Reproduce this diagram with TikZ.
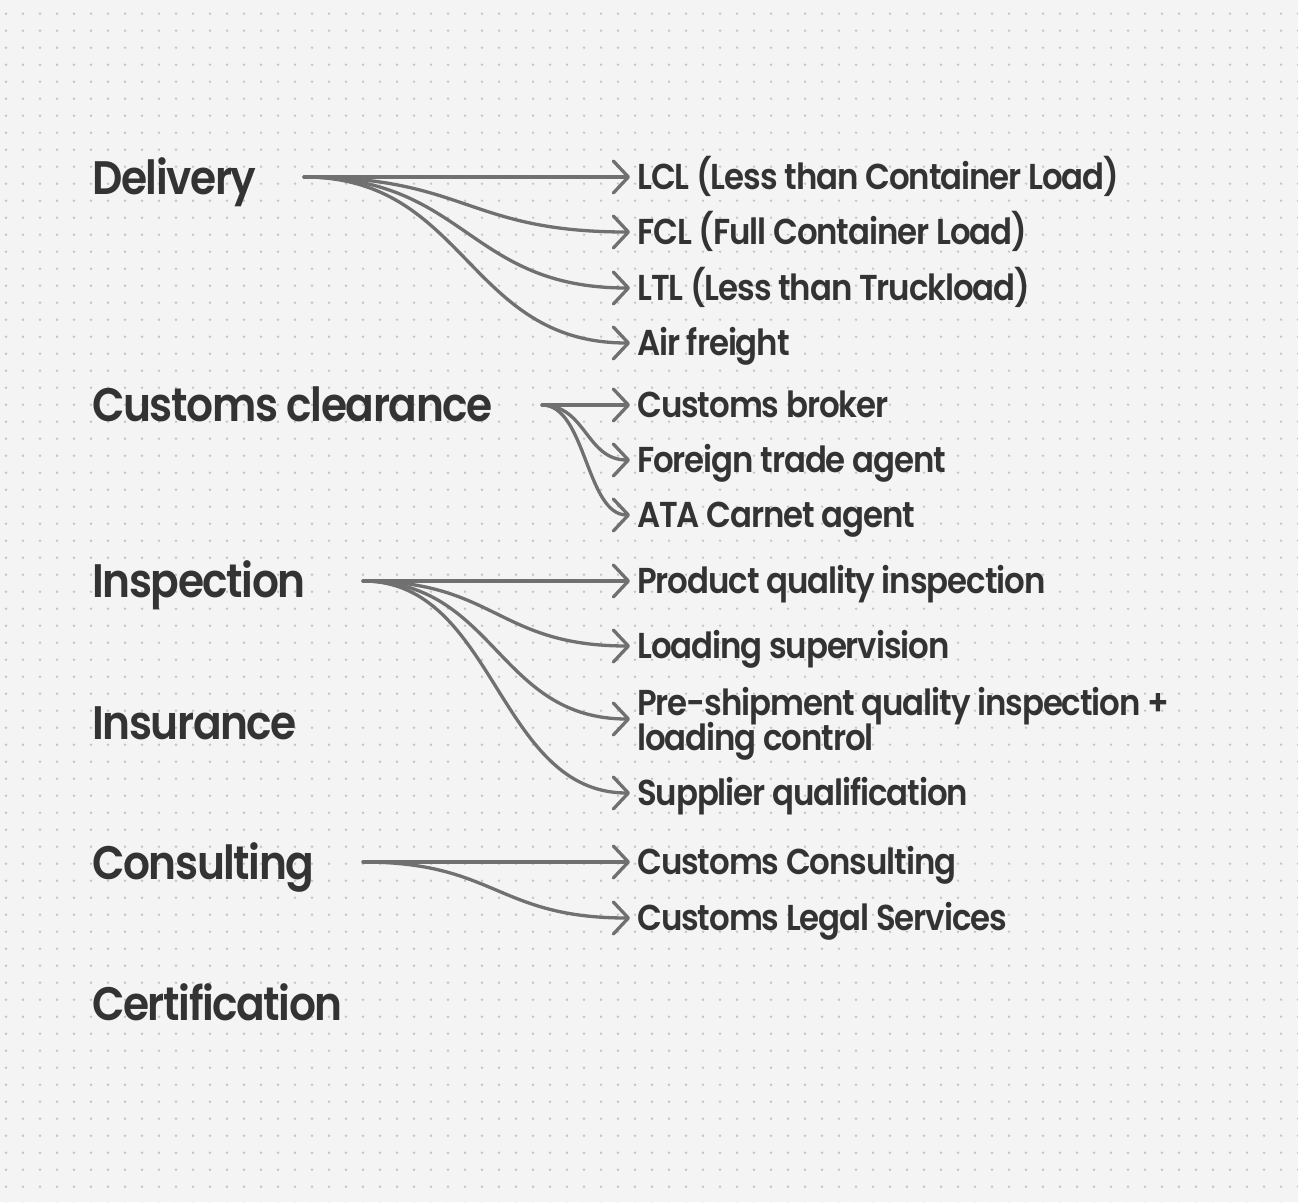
\documentclass[tikz,border=0pt]{standalone}
\usepackage{fontspec}
\setmainfont{Poppins}[UprightFont=* SemiBold, BoldFont=* Bold, FakeStretch=0.9, LetterSpace=-3]
\usetikzlibrary{arrows.meta}
\definecolor{bg}{HTML}{F4F4F4}
\definecolor{dotc}{HTML}{C4C4C4}
\definecolor{ink}{HTML}{333333}
\definecolor{wire}{HTML}{707070}
\tikzset{
  head/.style={font=\fontsize{47}{50}\selectfont, text=ink, inner sep=0pt,
    text height=33pt, text depth=0pt, anchor=west},
  item/.style={font=\fontsize{36}{34}\selectfont, text=ink, inner ysep=0pt,
    inner xsep=7pt, text height=25pt, text depth=0pt, anchor=west},
  item2/.style={font={\fontsize{36}{35}\selectfont\lineskiplimit=-100pt}, text=ink,
    inner ysep=0pt, inner xsep=7pt, align=left, anchor=west},
  conn/.style={draw=wire, line width=3.3pt, line cap=round,
    -{Straight Barb[length=15pt,width=32pt,round]}},
}
\begin{document}
\begin{tikzpicture}[x=1pt,y=-1pt]
\useasboundingbox (0,0) rectangle (1298,1202);
\fill[bg] (0,0) rectangle (1298,1202);
\foreach \i in {0,...,76}{
  \foreach \j in {0,...,70}{
    \fill[dotc] (6+17*\i,13.7+17*\j) circle[radius=1.3pt];
  }
}
% headings
\node[head] (delivery) at (92,178) {Delivery};
\node[head] (customs) at (92,405) {Customs clearance};
\node[head] (inspection) at (92,581) {Inspection};
\node[head] (insurance) at (92,723) {Insurance};
\node[head] (consulting) at (92,863) {Consulting};
\node[head] (certification) at (92,1004) {Certification};
% sources
\coordinate (d0) at (304,177);
\coordinate (c0) at (542,405);
\coordinate (i0) at (363,581);
\coordinate (k0) at (363,862);
% items
\node[item] (lcl) at (630,177) {LCL (Less than Container Load)};
\node[item] (fcl) at (630,232) {FCL (Full Container Load)};
\node[item] (ltl) at (630,288) {LTL (Less than Truckload)};
\node[item] (air) at (630,343) {Air freight};
\node[item] (broker) at (630,405) {Customs broker};
\node[item] (fta) at (630,460) {Foreign trade agent};
\node[item] (ata) at (630,515) {ATA Carnet agent};
\node[item] (pqi) at (630,581) {Product quality inspection};
\node[item] (ls) at (630,646) {Loading supervision};
\node[item2] (psi) at (630,723.5) {Pre-shipment quality inspection +\\loading control};
\node[item] (sq) at (630,793) {Supplier qualification};
\node[item] (cc) at (630,862) {Customs Consulting};
\node[item] (cls) at (630,918) {Customs Legal Services};
% connectors
\foreach \t in {lcl,fcl,ltl,air}
  \draw[conn] (d0) .. controls +(163,0) and +(-163,0) .. (\t.west);
\foreach \t in {broker,fta,ata}
  \draw[conn] (c0) .. controls +(44,0) and +(-44,0) .. (\t.west);
\foreach \t in {pqi,ls,sq}
  \draw[conn] (i0) .. controls +(133,0) and +(-133,0) .. (\t.west);
\draw[conn] (i0) .. controls +(133,0) and +(-133,0) .. ([yshift=4.5pt]psi.west);
\foreach \t in {cc,cls}
  \draw[conn] (k0) .. controls +(133,0) and +(-133,0) .. (\t.west);
\end{tikzpicture}
\end{document}
